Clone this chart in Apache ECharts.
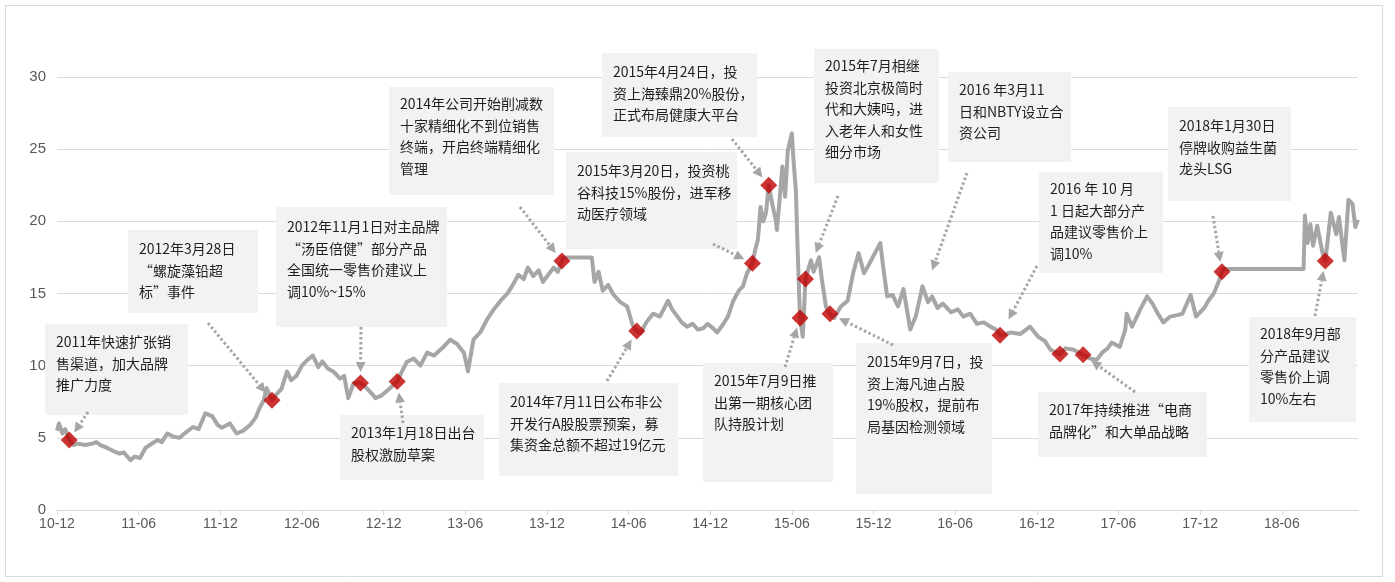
<!DOCTYPE html>
<html><head><meta charset="utf-8">
<script src="https://cdn.jsdelivr.net/npm/echarts@6/dist/echarts.min.js"></script>
<style>html,body{margin:0;padding:0;background:#fff}#c{width:1395px;height:582px}</style>
</head><body><div id="c"></div><script>
// x = months after Dec 2010 (the axis is labelled every 6 months)
const tickLabels = ['10-12','11-06','11-12','12-06','12-12','13-06','13-12','14-06','14-12','15-06','15-12','16-06','16-12','17-06','17-12','18-06'];
const months = [0,0.15,0.4,0.6,0.9,1.2,1.5,2.1,2.6,2.9,3.2,3.7,4.1,4.6,4.9,5.4,5.7,6.1,6.5,6.8,7.4,7.7,8.1,8.5,9.0,9.5,10.0,10.4,10.9,11.4,11.8,12.1,12.7,13.2,13.7,14.2,14.6,14.9,15.2,15.4,15.8,16.2,16.5,16.9,17.2,17.6,18.0,18.4,18.8,19.2,19.5,19.9,20.3,20.8,21.1,21.4,21.8,22.3,22.7,23.1,23.4,23.8,24.3,25.0,25.4,25.7,26.2,26.7,27.2,27.7,28.4,28.9,29.4,29.9,30.2,30.6,31.1,31.6,32.1,32.6,33.1,33.5,33.9,34.3,34.6,35.0,35.4,35.7,36.1,36.5,36.8,37.1,37.2,39.3,39.5,39.8,40.1,40.5,40.9,41.4,41.9,42.3,42.6,42.9,43.3,43.8,44.3,44.9,45.2,45.6,45.9,46.3,46.7,47.1,47.5,47.8,48.2,48.5,48.9,49.3,49.7,50.1,50.4,50.7,51.1,51.3,51.5,51.7,51.9,52.1,52.3,52.6,52.8,52.9,53.1,53.3,53.5,53.7,54.0,54.1,54.3,54.4,54.5,54.6,54.8,55.0,55.4,55.6,56.0,56.2,56.5,56.8,57.1,57.6,58.1,58.5,58.9,59.3,59.6,60.1,60.5,60.7,61.0,61.4,61.8,62.2,62.7,63.1,63.6,64.0,64.3,64.7,65.1,65.7,66.2,66.6,67.1,67.6,68.1,68.6,69.0,69.3,70.1,70.8,71.5,72.1,72.6,73.0,73.7,74.1,74.7,75.4,75.9,76.4,76.8,77.2,77.5,78.1,78.5,78.6,79.0,79.6,80.1,80.5,80.9,81.3,81.8,82.3,82.7,83.3,83.7,84.3,84.6,85.0,85.4,85.6,85.7,91.6,91.7,91.9,92.1,92.3,92.6,93.0,93.2,93.6,94.0,94.2,94.6,94.9,95.2,95.4,95.6];
const prices = [5.5,6.0,5.3,5.6,4.85,4.5,4.6,4.5,4.6,4.7,4.5,4.3,4.1,3.9,4.0,3.45,3.7,3.6,4.3,4.5,4.85,4.7,5.3,5.1,5.0,5.4,5.75,5.6,6.7,6.5,5.9,5.7,6.0,5.3,5.5,5.9,6.4,7.1,7.6,8.45,7.6,8.1,8.4,9.6,9.0,9.3,10.0,10.4,10.7,9.9,10.3,9.8,9.6,9.1,9.3,7.75,8.8,8.8,8.5,8.1,7.75,7.9,8.3,8.9,9.7,10.25,10.5,10.0,10.9,10.7,11.3,11.8,11.5,10.9,9.6,11.8,12.3,13.2,13.9,14.5,15.0,15.6,16.3,16.0,16.8,16.2,16.6,15.8,16.3,16.8,16.5,17.25,17.5,17.5,15.8,16.5,15.2,15.6,14.9,14.4,14.1,12.8,12.4,12.25,13.0,13.6,13.4,14.5,13.9,13.4,13.0,12.7,12.9,12.5,12.6,12.9,12.6,12.3,12.8,13.4,14.5,15.2,15.5,16.4,17.1,18.0,18.7,21.0,20.0,20.6,22.5,21.0,20.2,19.4,21.5,23.8,21.7,24.9,26.1,24.5,22.0,18.7,15.9,13.3,12.0,16.0,17.3,16.5,17.5,16.0,14.1,13.6,13.3,14.1,14.5,16.4,17.8,16.4,16.9,17.8,18.5,16.9,14.8,14.9,14.1,15.3,12.5,13.4,15.5,14.4,14.8,14.0,14.3,13.7,13.9,13.4,13.6,12.9,13.0,12.7,12.5,12.1,12.3,12.2,12.7,12.0,11.7,11.1,10.8,11.2,11.1,10.75,10.5,10.4,10.9,11.2,11.6,11.3,12.5,13.6,12.7,13.9,14.8,14.3,13.6,13.0,13.4,13.5,13.6,14.9,13.4,14.0,14.5,15.0,15.9,16.5,16.7,16.7,20.4,18.5,19.8,18.3,19.7,17.8,17.25,20.6,19.1,20.3,17.3,21.5,21.2,19.6,20.1];

const eventMonths = [0.9,15.8,22.3,25.0,37.1,42.6,51.1,52.3,54.6,55.0,56.8,69.3,73.7,75.4,85.6,93.2];
const eventPrices = [4.85,7.6,8.8,8.9,17.25,12.4,17.1,22.5,13.3,16.0,13.6,12.1,10.8,10.75,16.5,17.25];

const noteTexts = [
 '2011年快速扩张销\n售渠道，加大品牌\n推广力度',
 '2012年3月28日\n“螺旋藻铅超\n标”事件',
 '2012年11月1日对主品牌\n“汤臣倍健”部分产品\n全国统一零售价建议上\n调10%~15%',
 '2013年1月18日出台\n股权激励草案',
 '2014年公司开始削减数\n十家精细化不到位销售\n终端，开启终端精细化\n管理',
 '2014年7月11日公布非公\n开发行A股股票预案，募\n集资金总额不超过19亿元',
 '2015年3月20日，投资桃\n谷科技15%股份，进军移\n动医疗领域',
 '2015年4月24日，投\n资上海臻鼎20%股份，\n正式布局健康大平台',
 '2015年7月9日推\n出第一期核心团\n队持股计划',
 '2015年7月相继\n投资北京极简时\n代和大姨吗，进\n入老年人和女性\n细分市场',
 '2015年9月7日，投\n资上海凡迪占股\n19%股权，提前布\n局基因检测领域',
 '2016 年3月11\n日和NBTY设立合\n资公司',
 '2016 年 10 月\n1 日起大部分产\n品建议零售价上\n调10%',
 '2017年持续推进“电商\n品牌化”和大单品战略',
 '2018年1月30日\n停牌收购益生菌\n龙头LSG',
 '2018年9月部\n分产品建议\n零售价上调\n10%左右'
];
// which event each note points at (-1: a spot on the line)
const noteEvent = [0,1,2,3,4,5,6,7,8,9,10,-1,11,13,14,15];

// layout of note boxes: [left, top, width, height, firstLineCenterY], arrow start [x,y], gap to target
const noteLayout = [
 {b:[45,324,143,91,342], s:[88,412], g:9},
 {b:[128,230,130,83,249], s:[208,323], g:10},
 {b:[276,207,171,120,227], s:[361,327], g:11},
 {b:[340,415,144,65,433], s:[403,423], g:11},
 {b:[389,87,165,108,104], s:[520,207], g:10},
 {b:[499,383,179,93,402], s:[607,381], g:10},
 {b:[566,152,171,97,171], s:[713,244], g:9},
 {b:[602,53,155,84,72], s:[732,139], g:10},
 {b:[703,363,130,119,381], s:[785,367], g:10},
 {b:[814,49,125,134,66], s:[838,196], g:28},
 {b:[856,343,136,151,362], s:[893,345], g:10},
 {b:[948,72,123,90,90], s:[967,173], g:0, t:[64.3,16.6]},
 {b:[1039,172,124,101,189], s:[1037,266], g:18},
 {b:[1038,392,169,65,410], s:[1135,392], g:10},
 {b:[1168,107,123,94,126], s:[1213,216], g:10},
 {b:[1249,317,107,105,334], s:[1315,316], g:10}
];

const chart = echarts.init(document.getElementById('c'), null, {renderer:'canvas'});
const ticks = tickLabels.map((_, i) => i * 6);
const axisFont = '"Liberation Sans Narrow","Liberation Sans",Arial,sans-serif';
chart.setOption({
  animation: false,
  backgroundColor: '#fff',
  grid: {left: 57, right: 37, top: 77, bottom: 72, containLabel: false},
  xAxis: {
    type: 'value', min: 0, max: 95.6, interval: 6,
    axisLine: {show: true, lineStyle: {color: '#d9d9d9', width: 1}},
    axisTick: {show: true, length: 5, lineStyle: {color: '#d9d9d9'}, customValues: ticks},
    axisLabel: {customValues: ticks, formatter: v => tickLabels[Math.round(v / 6)] || '', color: '#595959', fontSize: 14, fontFamily: axisFont, margin: 7},
    splitLine: {show: false}
  },
  yAxis: {
    type: 'value', min: 0, max: 30, interval: 5,
    axisLine: {show: false}, axisTick: {show: false},
    axisLabel: {color: '#595959', fontSize: 15, fontFamily: axisFont, margin: 11},
    splitLine: {lineStyle: {color: '#d9d9d9', width: 1}}
  },
  series: [
    {type: 'line', data: months.map((m, i) => [m, prices[i]]), showSymbol: false, symbol: 'none',
     lineStyle: {color: '#a6a6a6', width: 4, join: 'round'}, z: 2, silent: true},
    {type: 'scatter', data: eventMonths.map((m, i) => [m, eventPrices[i]]), symbol: 'diamond', symbolSize: 17,
     itemStyle: {color: '#c00000'}, z: 4, silent: true}
  ]
});

const g = [];
g.push({type: 'rect', shape: {x: 5.5, y: 5.5, width: 1377, height: 571}, style: {fill: 'none', stroke: '#d9d9d9', lineWidth: 1}, z: 0, silent: true});
noteTexts.forEach((txt, i) => {
  const L = noteLayout[i];
  const [bx, by, bw, bh, ly] = L.b;
  g.push({type: 'rect', shape: {x: bx, y: by, width: bw, height: bh}, style: {fill: '#f2f2f2'}, z: 1, silent: true});
  g.push({type: 'text', x: bx + 11, y: ly - 10.75, style: {text: txt, fill: '#1f1f1f', fontSize: 14, fontFamily: '"Noto Sans CJK SC",sans-serif', lineHeight: 21.5, verticalAlign: 'top', align: 'left'}, z: 1, silent: true});
  const ev = noteEvent[i];
  const tgt = ev >= 0 ? chart.convertToPixel({gridIndex: 0}, [eventMonths[ev], eventPrices[ev]]) : chart.convertToPixel({gridIndex: 0}, L.t);
  const [sx, sy] = L.s;
  let dx = tgt[0] - sx, dy = tgt[1] - sy;
  const len = Math.hypot(dx, dy); dx /= len; dy /= len;
  const tx = tgt[0] - dx * L.g, ty = tgt[1] - dy * L.g;
  const hl = 10, hw = 5;
  const bxp = tx - dx * hl, byp = ty - dy * hl;
  g.push({type: 'line', shape: {x1: sx, y1: sy, x2: bxp, y2: byp}, style: {stroke: '#a6a6a6', lineWidth: 3, lineDash: [2.5, 2.5]}, z: 3, silent: true});
  g.push({type: 'polygon', shape: {points: [[tx, ty], [bxp - dy * hw, byp + dx * hw], [bxp + dy * hw, byp - dx * hw]]}, style: {fill: '#a6a6a6'}, z: 3, silent: true});
});
chart.setOption({graphic: g});
</script></body></html>
